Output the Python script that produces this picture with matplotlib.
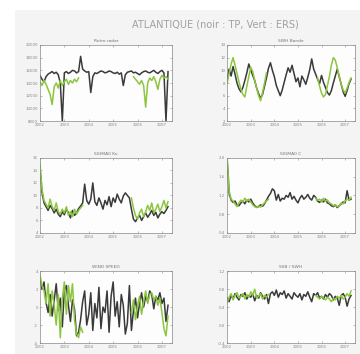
import numpy as np
import matplotlib
matplotlib.use("Agg")
import matplotlib.pyplot as plt
from matplotlib.patches import Rectangle

N = 64
years = [2002 + i / 12 for i in range(N)]
tick_years = [2002, 2003, 2004, 2005, 2006, 2007]
tick_labels = ["2002", "2003", "2004", "2005", "2006", "2007"]

titles = ["Retro radar", "SWH Bande", "SIGMA0 Ku", "SIGMA0 C", "WIND SPEED", "SSB / SWH"]

b1 = [15200,14600,14200,15000,15400,15600,15800,15500,15700,15300,14000,8000,
      15600,15800,15500,15700,16000,15900,15600,15800,18200,16200,15900,15700,
      15800,12500,15000,15600,15500,15700,15900,15800,15600,15700,15900,15800,
      15600,15500,15700,15400,15600,13600,15300,15700,15800,15900,15600,15700,
      15500,15300,15600,15800,15900,15700,15600,15800,16000,15700,15500,15800,
      16000,15600,8000,15800]
g1_start = [14200,13600,14400,13800,13000,12200,10600,13400,14000,13200,14400,13600,
            14200,14600,13800,14400,14000,14600,14200,14800]
g1_end = [15000,14600,14200,13800,14400,13600,10200,14000,14800,14400,15000,14200,
          13000,14600,15200,14800,15000,14600]

b2 = [8.5,10.2,9.1,10.6,9.4,8.0,7.1,6.6,7.3,8.4,9.6,11.0,
      10.1,9.2,8.4,7.2,6.3,5.6,6.2,7.5,8.8,10.3,11.2,10.0,
      9.0,7.6,6.8,6.0,6.9,8.1,9.3,10.4,9.7,10.8,9.5,8.2,
      8.8,7.4,9.1,8.5,7.8,8.9,10.1,11.8,10.2,9.4,8.6,7.9,
      9.2,8.1,7.3,6.5,6.1,6.8,8.0,9.1,10.2,9.0,7.8,6.6,
      5.9,6.8,7.9,8.6]
g2_start = [8.0,9.5,11.0,12.0,10.8,9.5,8.2,7.0,6.2,5.8,7.5,9.0,10.5,9.8,8.4,7.2,6.0,5.2,6.5,8.0,9.6]
g2_end = [8.8,7.5,6.4,5.8,6.2,7.6,9.0,10.8,12.0,11.6,10.4,9.0,7.8,6.9,6.4,7.2,8.1,8.8]

b3 = [14.5,10.5,8.8,8.2,7.6,8.4,7.9,7.2,7.8,7.0,6.6,7.4,
      6.9,7.8,7.2,6.4,7.6,6.8,7.2,7.9,8.3,8.8,11.8,9.2,
      8.6,9.4,12.0,9.0,8.4,9.6,8.8,7.8,9.2,8.5,9.8,8.2,
      9.6,8.9,10.2,9.4,8.8,9.9,10.4,10.0,9.6,7.8,6.2,5.8,
      6.4,6.8,6.0,6.6,7.2,6.5,7.0,7.6,6.8,7.3,6.4,7.0,
      7.4,7.1,7.6,8.2]
g3_start = [15.2,11.0,9.2,8.6,8.0,9.4,8.2,7.6,8.8,7.4,7.0,7.8,7.2,8.2,6.8,7.4,6.6,7.8,7.0,7.6,8.0,8.4]
g3_end = [9.6,8.0,6.8,6.2,7.2,7.8,6.6,7.4,8.4,7.6,8.8,7.2,7.8,8.6,7.4,8.2,9.2,8.0,9.0]

b4 = [1.95,1.25,1.10,1.05,1.08,1.00,0.98,1.04,1.08,1.02,1.10,1.06,
      1.12,1.04,0.98,0.95,0.96,1.00,0.97,1.02,1.10,1.18,1.24,1.34,
      1.30,1.10,1.22,1.08,1.14,1.12,1.20,1.16,1.26,1.12,1.18,1.10,
      1.04,1.14,1.20,1.12,1.16,1.22,1.14,1.10,1.20,1.16,1.08,1.05,
      1.10,1.06,1.12,1.04,1.02,0.98,0.96,1.00,0.94,0.98,1.02,1.06,
      1.04,1.30,1.10,1.12]
g4_start = [2.0,1.30,1.12,1.08,1.02,0.96,1.04,1.10,1.06,1.14,1.08,1.12,1.06,1.00,0.96,0.94,0.98,0.95,1.00,1.04,1.08,1.12]
g4_end = [1.14,1.10,1.12,1.06,1.14,1.08,1.10,1.04,1.02,0.98,1.00,0.96,0.98,1.04,1.02,1.08,1.12,1.10,1.16]

b5 = [3.2,2.0,2.8,0.5,-0.6,1.4,-1.0,0.8,2.6,-0.4,1.0,-2.2,
      1.8,2.4,0.2,-1.6,0.8,-0.2,-3.2,-2.8,-1.4,0.6,1.8,-2.0,
      -0.8,1.6,-2.6,0.4,-1.2,2.2,-2.4,0.0,-0.6,1.8,-2.8,1.2,
      2.8,-1.0,0.6,-2.2,1.4,0.2,-3.0,-1.8,2.4,-2.6,-0.4,1.0,
      -1.2,0.4,1.6,0.0,1.2,0.6,1.8,1.4,-0.2,1.2,0.8,1.6,
      0.4,1.0,-1.6,0.2]
g5_start = [3.6,2.4,1.8,0.4,2.6,-1.0,1.8,0.2,-2.0,1.4,-3.4,1.0,2.8,-0.8,2.4,0.6,2.6,-1.4,-3.0,-3.4,-2.2,-2.8]
g5_end = [-0.6,0.8,-1.4,0.2,1.2,-0.8,0.6,1.8,0.4,1.4,1.6,0.8,1.2,0.2,1.0,-0.6,-2.4,-3.2,-1.0]

b6 = [0.60,0.52,0.66,0.58,0.70,0.62,0.56,0.68,0.64,0.72,0.58,0.66,
      0.62,0.70,0.54,0.66,0.60,0.72,0.64,0.58,0.68,0.48,0.70,0.74,
      0.66,0.78,0.62,0.72,0.68,0.76,0.60,0.70,0.64,0.58,0.72,0.66,
      0.62,0.70,0.56,0.68,0.64,0.74,0.62,0.52,0.70,0.66,0.72,0.60,
      0.64,0.58,0.68,0.62,0.70,0.66,0.56,0.64,0.60,0.44,0.66,0.70,
      0.62,0.42,0.58,0.66]
g6_start = [0.50,0.62,0.70,0.56,0.66,0.72,0.60,0.64,0.70,0.58,0.68,0.62,0.74,0.66,0.80,0.60,0.64,0.70,0.58,0.66,0.62,0.68]
g6_end = [0.66,0.62,0.58,0.64,0.60,0.56,0.62,0.58,0.52,0.60,0.56,0.64,0.60,0.66,0.58,0.62,0.70,0.64,0.76]

ylims = [(8000, 20000), (2, 14), (4, 16), (0.4, 2.0), (-4, 4), (-0.4, 1.2)]
yticks = [[8000,10000,12000,14000,16000,18000,20000], [2,4,6,8,10,12,14],
          [4,6,8,10,12,14,16], [0.4,0.8,1.2,1.6,2.0], [-4,-2,0,2,4],
          [-0.4,0.0,0.4,0.8,1.2]]

blacks = [b1, b2, b3, b4, b5, b6]
greens = [(g1_start, g1_end), (g2_start, g2_end), (g3_start, g3_end),
          (g4_start, g4_end), (g5_start, g5_end), (g6_start, g6_end)]

def full_green(start, end):
    return list(start) + [np.nan] * (N - len(start) - len(end)) + list(end)

fig = plt.figure(figsize=(3.6, 3.54), dpi=100, facecolor="white")
fig.patches.append(Rectangle((15 / 360, 0), 1, 1 - 10 / 354, transform=fig.transFigure,
                             facecolor="#f4f4f4", edgecolor="none", zorder=-10))
fig.text(0.597, 0.932, "ATLANTIQUE (noir : TP, Vert : ERS)", ha="center", va="center",
         fontsize=7, color="#a0a0a0")

positions = [
    [0.111, 0.658, 0.367, 0.215], [0.631, 0.658, 0.355, 0.215],
    [0.111, 0.342, 0.367, 0.212], [0.631, 0.342, 0.355, 0.212],
    [0.111, 0.031, 0.367, 0.203], [0.631, 0.031, 0.355, 0.203],
]

for k in range(6):
    ax = fig.add_axes(positions[k])
    ax.set_facecolor("#fdfdfd")
    ax.plot(years, blacks[k], color="#3a3a3a", lw=1.1)
    ax.plot(years, full_green(*greens[k]), color="#8cc63f", lw=1.1)
    ax.set_xlim(2002, 2002 + 65 / 12)
    ax.set_ylim(*ylims[k])
    ax.set_yticks(yticks[k])
    ax.set_yticklabels([str(t) for t in yticks[k]])
    ax.set_xticks(tick_years)
    ax.set_xticklabels(tick_labels)
    ax.tick_params(labelsize=2.8, colors="#888888", length=1.5, width=0.4,
                   direction="in", top=True, right=True, pad=1.5)
    for s in ax.spines.values():
        s.set_color("#888888")
        s.set_linewidth(0.5)
    ax.set_title(titles[k], fontsize=3.2, color="#777777", pad=2)

fig.savefig("out.png", dpi=100, facecolor=fig.get_facecolor())
